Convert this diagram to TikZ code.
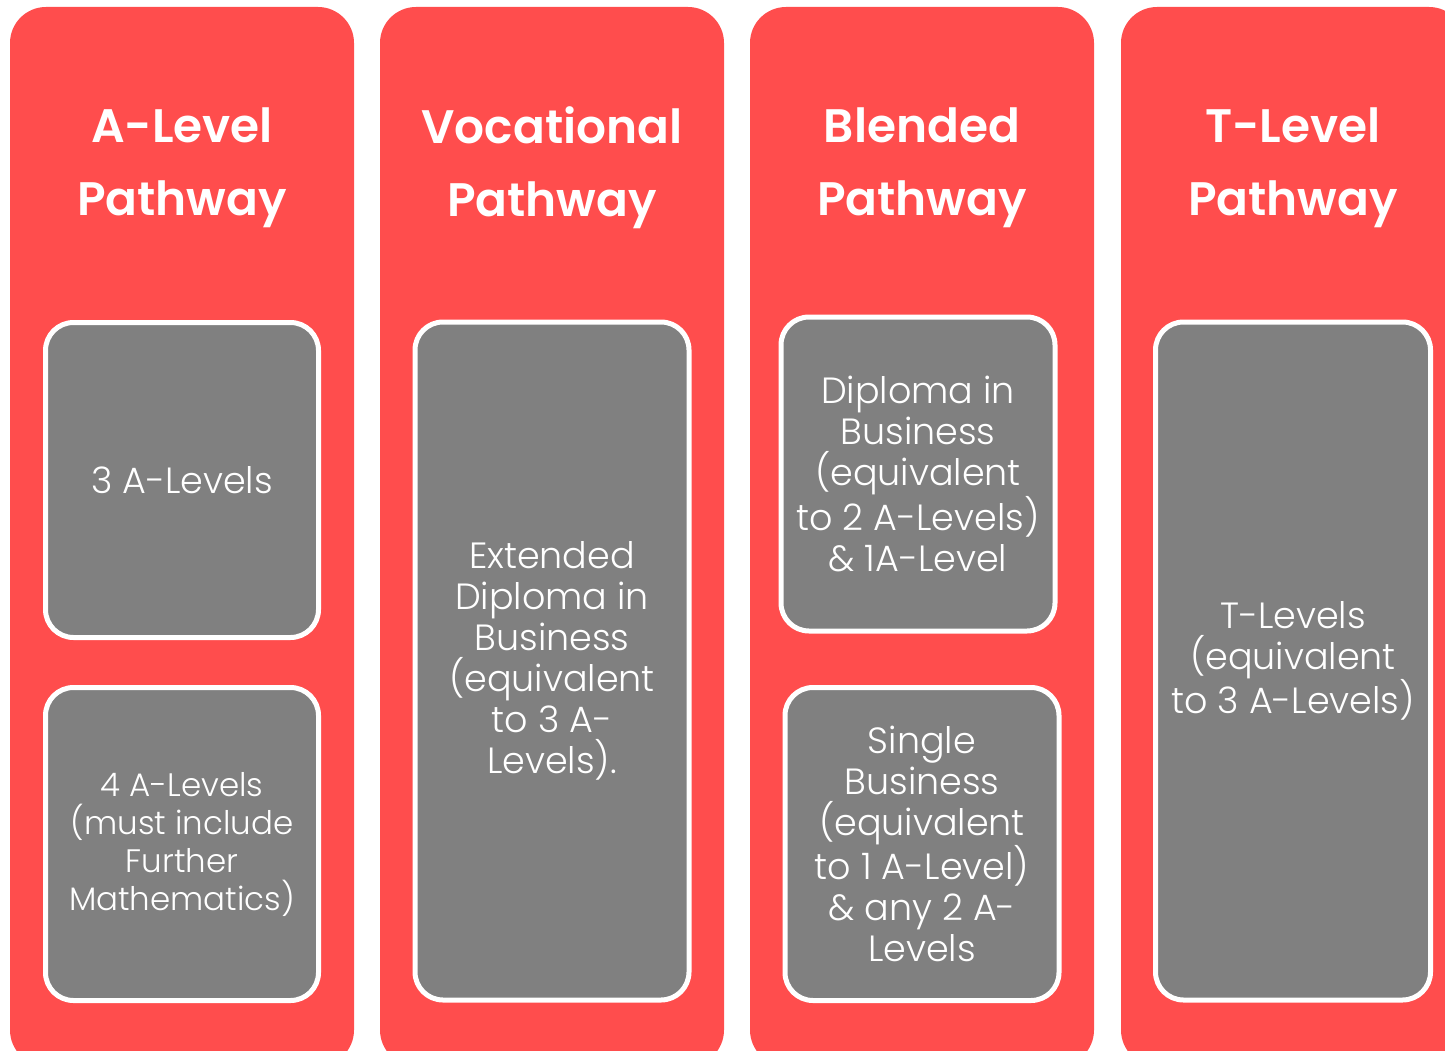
\documentclass[tikz,border=0pt]{standalone}
\usepackage{fontspec}
\setmainfont{Poppins}[UprightFont=*-Light,BoldFont=*-SemiBold]
\newlength{\du}
\setlength{\du}{1pt}
\definecolor{pathred}{rgb}{1.000000, 0.301961, 0.301961}
\definecolor{optiongray}{rgb}{0.501961, 0.501961, 0.501961}
\tikzset{
  pathcolumn/.style={fill=pathred, draw=none, rounded corners=36\du},
  pathtitle/.style={text=white, align=center, font=\fontsize{47}{73}\selectfont\bfseries},
  optionbox/.style={fill=optiongray, draw=white, line width=5\du, rounded corners=28\du,
    text=white, align=center, inner sep=0pt, font=\fontsize{36.5}{41}\selectfont},
  optionsmall/.style={font=\fontsize{32.5}{38}\selectfont}
}

\begin{document}
\begin{tikzpicture}
\pgftransformxscale{1.000000}
\pgftransformyscale{-1.000000}
\useasboundingbox (0\du,0\du) rectangle (1445\du,1051\du);
\clip (0\du,0\du) rectangle (1445\du,1051\du);
% columns
\fill[pathcolumn] (10\du,7\du) rectangle (354\du,1066\du);
\fill[pathcolumn] (380\du,7\du) rectangle (724\du,1066\du);
\fill[pathcolumn] (750\du,7\du) rectangle (1094\du,1066\du);
\fill[pathcolumn] (1121\du,7\du) rectangle (1465\du,1066\du);
% titles
\node[pathtitle] (alevel) at (182\du,168\du){A-Level\\Pathway};
\node[pathtitle] (vocational) at (552\du,168\du){Vocational\\Pathway};
\node[pathtitle] (blended) at (922\du,168\du){Blended\\Pathway};
\node[pathtitle] (tlevel) at (1293\du,168\du){T-Level\\Pathway};
% A-Level options
\node[optionbox, minimum width=273\du, minimum height=315\du] (threeAL) at (182\du,480\du){3 A-Levels};
\node[optionbox, optionsmall, minimum width=273\du, minimum height=313\du] (fourAL) at (182\du,844\du){4 A-Levels\\(must include\\Further\\Mathematics)};
% Vocational option
\node[optionbox, minimum width=274\du, minimum height=678\du] (extdip) at (552\du,661\du){Extended\\Diploma in\\Business\\(equivalent\\to 3 A-\\Levels).};
% Blended options
\node[optionbox, minimum width=274\du, minimum height=314\du] (diploma) at (918\du,474\du){Diploma in\\Business\\(equivalent\\to 2 A-Levels)\\\& 1A-Level};
\node[optionbox, minimum width=274\du, minimum height=313\du] (single) at (922\du,844\du){Single\\Business\\(equivalent\\to 1 A-Level)\\\& any 2 A-\\Levels};
% T-Level option
\node[optionbox, minimum width=275\du, minimum height=678\du] (tlevels) at (1293\du,661\du){T-Levels\\(equivalent\\to 3 A-Levels)};
\end{tikzpicture}
\end{document}
